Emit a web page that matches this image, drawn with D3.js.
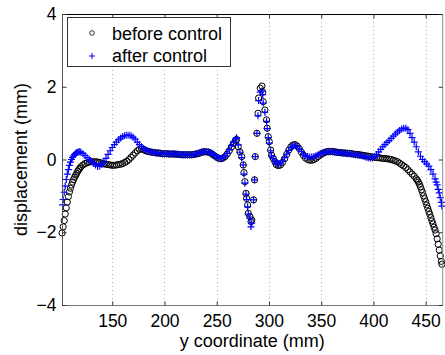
<!DOCTYPE html>
<html>
<head>
<meta charset="utf-8">
<script src="https://cdn.jsdelivr.net/npm/d3@7"></script>
<style>
  body { margin: 0; background: #fff; }
  svg { display: block; font-family: "Liberation Sans", Arial, sans-serif; }
</style>
</head>
<body>
<div id="chart"></div>
<script>
// y coordinate (mm) / displacement (mm)
var beforeX = [102,103,104,105,106,107,108,109,110,111,112,113,114,115,116,117,118,119,120,122,124,126,128,130,132,134,136,138,140,142,144,146,148,150,152,154,156,158,160,162,164,166,168,170,172,174,176,178,180,182,184,186,188,190,192,194,196,198,200,202,204,206,208,210,212,214,216,218,220,222,224,226,228,230,232,234,236,238,240,242,244,246,248,250,252,254,256,258,260,262,264,266,268,269,270.6,272.2,273.9,275.4,276.1,277,278,278.6,279.6,280.2,281.8,282.8,283.5,285.3,286.2,286.9,288.5,289.5,290.1,291.7,293.3,294.1,294.5,296.1,297.7,298.3,299.3,300.3,301.6,302.5,304.1,305.7,307,309,311,313,315,317,319,321,323,325,327,329,331,333,335,337,339,341,343,345,347,349,351,353,355,357,359,361,363,365,367,369,371,373,375,377,379,381,383,385,387,389,391,393,395,397,399,401,403,405,407,409,411,413,415,417,419,421,423,425,427,429,431,433,435,437,439,441,442,443,444,445,446,447,448,449,450,451,452,453,454,455,456,457,458,459,460,461,462,463,464,465,465.6];
var beforeY = [-2.02,-1.85,-1.68,-1.50,-1.33,-1.17,-1.02,-0.89,-0.79,-0.70,-0.62,-0.55,-0.49,-0.43,-0.38,-0.32,-0.28,-0.24,-0.20,-0.15,-0.11,-0.09,-0.07,-0.06,-0.06,-0.06,-0.07,-0.08,-0.10,-0.12,-0.13,-0.14,-0.15,-0.16,-0.16,-0.15,-0.14,-0.13,-0.11,-0.08,-0.05,0.00,0.06,0.12,0.18,0.24,0.28,0.29,0.27,0.24,0.22,0.21,0.20,0.19,0.18,0.18,0.17,0.16,0.16,0.16,0.15,0.15,0.15,0.15,0.14,0.14,0.13,0.13,0.13,0.13,0.13,0.13,0.14,0.15,0.16,0.18,0.20,0.21,0.21,0.20,0.18,0.14,0.10,0.06,0.03,0.02,0.04,0.08,0.15,0.24,0.34,0.44,0.52,0.55,0.35,0.21,0.08,-0.15,-0.36,-0.61,-0.93,-1.07,-1.25,-1.48,-1.57,-1.71,-1.66,-1.11,-0.56,0.08,0.72,1.27,1.69,1.96,2.02,1.85,1.59,1.36,1.09,0.86,0.63,0.49,0.26,0.12,0.03,-0.06,-0.14,-0.17,-0.15,-0.08,0.02,0.14,0.26,0.35,0.40,0.41,0.37,0.30,0.20,0.11,0.04,0.00,-0.02,-0.02,0.00,0.03,0.08,0.12,0.16,0.19,0.21,0.22,0.22,0.22,0.21,0.20,0.19,0.19,0.18,0.18,0.17,0.17,0.16,0.15,0.14,0.14,0.13,0.12,0.11,0.10,0.09,0.08,0.07,0.06,0.05,0.05,0.04,0.03,0.03,0.02,0.01,0.00,-0.02,-0.04,-0.06,-0.10,-0.14,-0.18,-0.22,-0.28,-0.34,-0.40,-0.46,-0.53,-0.57,-0.62,-0.68,-0.75,-0.83,-0.91,-1.00,-1.08,-1.16,-1.25,-1.34,-1.43,-1.51,-1.60,-1.69,-1.77,-1.86,-1.94,-2.04,-2.18,-2.33,-2.49,-2.65,-2.80,-2.88];

var afterX = [102.5,103,104,105,106,107,108,109,110,111,112,113,114,115,116,117,118,119,120,122,124,126,128,130,132,134,136,138,140,142,144,146,148,150,152,154,156,158,160,162,164,166,168,170,172,174,176,178,180,182,184,186,188,190,192,194,196,198,200,202,204,206,208,210,212,214,216,218,220,222,224,226,228,230,232,234,236,238,240,242,244,246,248,250,252,254,256,258,260,262,264,266,268,269,270.6,272.2,273.9,275.4,276.1,277,278,278.6,279.6,280.2,281.8,282.8,283.5,285.3,286.2,286.9,288.5,289.5,290.1,291.7,293.3,294.1,294.5,296.1,297.7,298.3,299.3,300.3,301.6,302.5,304.1,305.7,307,309,311,313,315,317,319,321,323,325,327,329,331,333,335,337,339,341,343,345,347,349,351,353,355,357,359,361,363,365,367,369,371,373,375,377,379,381,383,385,387,389,391,393,395,397,399,401,403,405,407,409,411,413,415,417,419,421,423,425,427,429,431,433,435,437,439,441,443,445,447,449,451,453,455,457,459,460,461,462,463,464,465,465.5];
var afterY = [-1.25,-1.10,-0.90,-0.73,-0.55,-0.40,-0.28,-0.16,-0.07,0.00,0.06,0.10,0.14,0.17,0.19,0.20,0.21,0.21,0.20,0.16,0.11,0.05,0.00,-0.05,-0.10,-0.15,-0.19,-0.18,-0.14,-0.07,0.03,0.14,0.24,0.33,0.41,0.48,0.54,0.59,0.63,0.66,0.67,0.67,0.65,0.61,0.56,0.48,0.41,0.35,0.30,0.27,0.24,0.22,0.20,0.19,0.18,0.18,0.17,0.16,0.16,0.16,0.16,0.16,0.16,0.15,0.15,0.14,0.14,0.13,0.13,0.13,0.13,0.13,0.14,0.15,0.17,0.19,0.21,0.22,0.22,0.21,0.19,0.15,0.11,0.07,0.04,0.03,0.05,0.10,0.17,0.27,0.38,0.48,0.56,0.60,0.40,0.20,0.05,-0.15,-0.40,-0.65,-0.95,-1.10,-1.30,-1.50,-1.62,-1.85,-1.75,-1.11,-0.56,0.08,0.72,1.20,1.62,1.85,1.88,1.78,1.55,1.30,1.05,0.85,0.60,0.45,0.24,0.10,0.02,-0.05,-0.10,-0.12,-0.10,-0.04,0.05,0.15,0.25,0.33,0.37,0.38,0.35,0.29,0.22,0.15,0.10,0.08,0.07,0.07,0.08,0.10,0.13,0.16,0.18,0.20,0.21,0.21,0.21,0.21,0.20,0.20,0.19,0.18,0.17,0.17,0.16,0.16,0.15,0.14,0.13,0.12,0.11,0.10,0.08,0.06,0.05,0.04,0.04,0.08,0.14,0.21,0.28,0.35,0.41,0.47,0.52,0.58,0.64,0.70,0.75,0.80,0.84,0.86,0.86,0.82,0.72,0.60,0.48,0.35,0.21,0.09,0.00,-0.06,-0.12,-0.18,-0.28,-0.40,-0.53,-0.62,-0.70,-0.82,-0.92,-1.05,-1.18,-1.28];

var xTicks = [150, 200, 250, 300, 350, 400, 450];
var yTicks = [-4, -2, 0, 2, 4];
var seriesNames = ["before control", "after control"];

var W = 445, H = 355;
var box = {left: 62, right: 442.7, top: 14, bottom: 305};

var svg = d3.select("#chart").append("svg")
    .attr("width", W).attr("height", H);

var x = d3.scaleLinear().domain([101.9, 466.3]).range([box.left, box.right]);
var y = d3.scaleLinear().domain([-4, 4]).range([box.bottom, box.top]);

// dotted vertical grid
svg.append("g").selectAll("line")
    .data(xTicks).enter().append("line")
    .attr("x1", function(d) { return Math.round(x(d)) + 0.5; })
    .attr("x2", function(d) { return Math.round(x(d)) + 0.5; })
    .attr("y1", box.top).attr("y2", box.bottom)
    .attr("stroke", "#999").attr("stroke-width", 0.8)
    .attr("stroke-dasharray", "1,3");

// data
var before = beforeX.map(function(d, i) { return [d, beforeY[i]]; });
var after = afterX.map(function(d, i) { return [d, afterY[i]]; });

svg.append("g").selectAll("circle")
    .data(before).enter().append("circle")
    .attr("cx", function(d) { return x(d[0]); })
    .attr("cy", function(d) { return y(d[1]); })
    .attr("r", 3.1)
    .attr("fill", "none").attr("stroke", "#000").attr("stroke-width", 1);

var plus = "M-3.5,0H3.5M0,-3.5V3.5";
svg.append("g").selectAll("path")
    .data(after).enter().append("path")
    .attr("transform", function(d) { return "translate(" + x(d[0]) + "," + y(d[1]) + ")"; })
    .attr("d", plus)
    .attr("stroke", "#0000ff").attr("stroke-width", 1.2).attr("fill", "none");

// axes box
var g = svg.append("g");
g.append("line").attr("x1", box.left).attr("x2", box.right).attr("y1", box.top + 0.5).attr("y2", box.top + 0.5).attr("stroke", "#000");
g.append("line").attr("x1", box.left).attr("x2", box.right).attr("y1", box.bottom + 0.5).attr("y2", box.bottom + 0.5).attr("stroke", "#777");
g.append("line").attr("x1", box.left + 0.5).attr("x2", box.left + 0.5).attr("y1", box.top).attr("y2", box.bottom + 1).attr("stroke", "#555");
g.append("line").attr("x1", box.right).attr("x2", box.right).attr("y1", box.top).attr("y2", box.bottom + 1).attr("stroke", "#888");

// ticks on all four sides, pointing in
var xAxisB = svg.append("g").attr("transform", "translate(0," + (box.bottom + 0.5) + ")")
    .call(d3.axisBottom(x).tickValues(xTicks).tickSizeInner(-4).tickSizeOuter(0).tickPadding(9));
var xAxisT = svg.append("g").attr("transform", "translate(0," + (box.top + 0.5) + ")")
    .call(d3.axisTop(x).tickValues(xTicks).tickSizeInner(-4).tickSizeOuter(0).tickFormat(""));
var yAxisL = svg.append("g").attr("transform", "translate(" + (box.left + 0.5) + ",0)")
    .call(d3.axisLeft(y).tickValues(yTicks).tickSizeInner(-4).tickSizeOuter(0).tickPadding(6)
      .tickFormat(function(d) { return d < 0 ? "\u2212" + Math.abs(d) : d; }));
var yAxisR = svg.append("g").attr("transform", "translate(" + box.right + ",0)")
    .call(d3.axisRight(y).tickValues(yTicks).tickSizeInner(-4).tickSizeOuter(0).tickFormat(""));

[xAxisB, xAxisT, yAxisL, yAxisR].forEach(function(a) {
    a.select(".domain").remove();
    a.selectAll(".tick line").attr("stroke", "#333");
    a.selectAll("text").style("font-size", "17.5px").attr("fill", "#000")
      .style("font-family", "'Liberation Sans', Arial, sans-serif");
});

// axis labels
svg.append("text").attr("x", (box.left + box.right) / 2).attr("y", 347)
    .attr("text-anchor", "middle").style("font-size", "18px")
    .text("y coordinate (mm)");
svg.append("text").attr("transform", "translate(27," + ((box.top + box.bottom) / 2) + ") rotate(-90)")
    .attr("text-anchor", "middle").style("font-size", "18px")
    .text("displacement (mm)");

// legend
var lg = svg.append("g");
lg.append("rect").attr("x", 67.5).attr("y", 17.5).attr("width", 163).attr("height", 49)
    .attr("fill", "#fff").attr("stroke", "#333").attr("stroke-width", 1);
lg.append("circle").attr("cx", 92).attr("cy", 33).attr("r", 2.3)
    .attr("fill", "none").attr("stroke", "#000").attr("stroke-width", 0.8);
lg.append("path").attr("transform", "translate(92,56)").attr("d", "M-3,0H3M0,-3V3")
    .attr("stroke", "#0000ff").attr("stroke-width", 1);
lg.selectAll("text.lab").data(seriesNames).enter().append("text")
    .attr("class", "lab")
    .attr("x", 112).attr("y", function(d, i) { return 39.5 + i * 22; })
    .style("font-size", "18px")
    .text(function(d) { return d; });
</script>
</body>
</html>
